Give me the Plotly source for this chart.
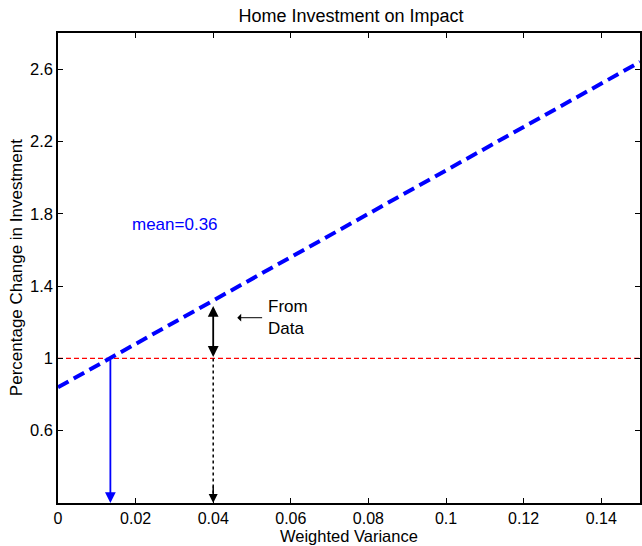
import plotly.graph_objects as go

# Data
variance = [0.0, 0.15]
pct_change = [0.84, 2.64]
ref_level = 1.0
mean_cross = 0.0135
data_var = 0.04
data_value = 1.29
x_ticks = [0, 0.02, 0.04, 0.06, 0.08, 0.1, 0.12, 0.14]
x_tick_labels = ["0", "0.02", "0.04", "0.06", "0.08", "0.1", "0.12", "0.14"]
y_ticks = [0.6, 1.0, 1.4, 1.8, 2.2, 2.6]
y_tick_labels = ["0.6", "1", "1.4", "1.8", "2.2", "2.6"]
x_range = [0, 0.15]
y_range = [0.2, 2.8]

font = "Liberation Sans, Arial, Helvetica, sans-serif"
FS = 17
TFS = 16.5

fig = go.Figure()

# red reference line
fig.add_trace(go.Scatter(x=x_range, y=[ref_level, ref_level], mode="lines",
                         line=dict(color="red", width=1.3, dash="5px,3px"),
                         hoverinfo="skip", showlegend=False))
# main blue dashed line
fig.add_trace(go.Scatter(x=variance, y=pct_change, mode="lines",
                         line=dict(color="blue", width=4, dash="12px,6px"),
                         showlegend=False))
# dotted black vertical
fig.add_trace(go.Scatter(x=[data_var, data_var], y=[ref_level, y_range[0] + 0.03], mode="lines",
                         line=dict(color="black", width=1.5, dash="dot"),
                         hoverinfo="skip", showlegend=False))

annotations = [
    # blue arrow down
    dict(x=mean_cross, y=y_range[0], ax=mean_cross, ay=ref_level, xref="x", yref="y",
         axref="x", ayref="y", showarrow=True, arrowhead=2, arrowsize=1.2,
         arrowwidth=1.8, arrowcolor="blue", text=""),
    # black arrowhead at bottom of dotted line
    dict(x=data_var, y=y_range[0], ax=data_var, ay=y_range[0] + 0.1, xref="x", yref="y",
         axref="x", ayref="y", showarrow=True, arrowhead=2, arrowsize=1.2,
         arrowwidth=1.5, arrowcolor="black", text=""),
    # double arrow
    dict(x=data_var, y=data_value, ax=data_var, ay=ref_level, xref="x", yref="y",
         axref="x", ayref="y", showarrow=True, arrowhead=2, startarrowhead=2,
         arrowside="end+start", arrowsize=1.2, startarrowsize=1.2,
         arrowwidth=1.8, arrowcolor="black", text=""),
    # From Data pointer arrow
    dict(x=0.0462, y=1.225, ax=0.0530, ay=1.225, xref="x", yref="y",
         axref="x", ayref="y", showarrow=True, arrowhead=1, arrowsize=1.3,
         arrowwidth=1, arrowcolor="black", text=""),
    dict(x=0.0535, y=1.225, xref="x", yref="y", text="From<br>Data", showarrow=False,
         xanchor="left", yanchor="middle", align="left",
         font=dict(family=font, size=FS, color="black")),
    dict(x=0.0185, y=1.74, xref="x", yref="y", text="mean=0.36", showarrow=False,
         xanchor="left", yanchor="middle",
         font=dict(family=font, size=FS, color="blue")),
    # axis titles
    dict(x=0.5, y=-(546 - 503) / 470, xref="paper", yref="paper", text="Weighted Variance",
         showarrow=False, xanchor="center", yanchor="bottom",
         borderpad=0, font=dict(family=font, size=16.5, color="black")),
    dict(x=-(58 - 16) / 584, y=0.5, xref="paper", yref="paper",
         text="Percentage Change in Investment", textangle=-90,
         showarrow=False, xanchor="center", yanchor="middle",
         font=dict(family=font, size=FS, color="black")),
]

fig.update_layout(
    width=642, height=546,
    margin=dict(l=58, r=0, t=33, b=43),
    paper_bgcolor="white", plot_bgcolor="white",
    title=dict(text="Home Investment on Impact", x=351 / 642, xanchor="center",
               y=1 - 16 / 546, yanchor="middle",
               font=dict(family=font, size=18, color="black")),
    annotations=annotations,
    xaxis=dict(range=x_range, tickvals=x_ticks, ticktext=x_tick_labels,
               ticks="inside", ticklen=5, tickcolor="black", tickwidth=1,
               showline=True, linecolor="black", linewidth=1.5, mirror="ticks",
               showgrid=False, zeroline=False,
               tickfont=dict(family=font, size=16, color="black")),
    yaxis=dict(range=y_range, tickvals=y_ticks, ticktext=y_tick_labels,
               ticks="inside", ticklen=5, tickcolor="black", tickwidth=1,
               showline=True, linecolor="black", linewidth=1.5, mirror="ticks",
               showgrid=False, zeroline=False,
               tickfont=dict(family=font, size=TFS, color="black")),
)

fig.write_html("out.html", config={"displayModeBar": False},
               post_script="document.body.style.margin='0';")
